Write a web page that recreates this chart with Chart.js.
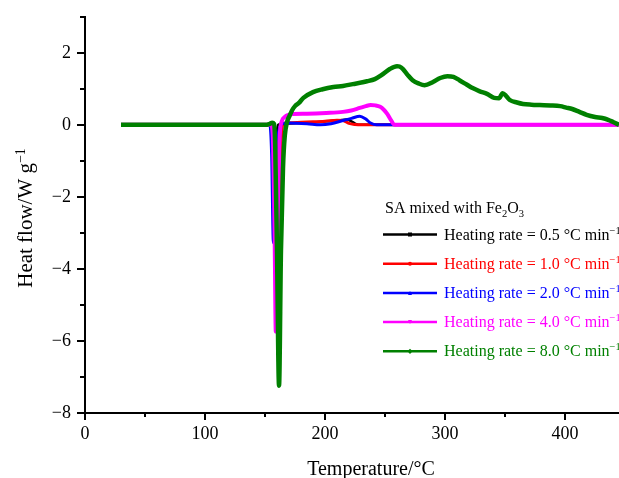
<!DOCTYPE html>
<html>
<head>
<meta charset="utf-8">
<script src="https://cdn.jsdelivr.net/npm/chart.js@4.4.1/dist/chart.umd.min.js"></script>
<style>
  html, body { margin: 0; padding: 0; background: #fff; }
  #wrap { position: relative; width: 619px; height: 478px; }
</style>
</head>
<body>
<div id="wrap"><canvas id="dscChart" width="619" height="478"></canvas></div>
<script>
// DSC curves, heat flow vs temperature, five heating rates
const SERIF = '"Liberation Serif", "Times New Roman", serif';

const rates = ['0.5', '1.0', '2.0', '4.0', '8.0'];
const colors = ['#000000', '#ff0000', '#0000ff', '#ff00ff', '#008000'];
const markers = ['rect', 'circle', 'triangle', 'triangleDown', 'rectRot'];

const t05 = [30, 155, 156.5, 157.5, 159, 161, 165, 180, 195, 205, 212, 218, 222, 226, 230, 445];
const q05 = [0, 0, -0.8, -1.6, -0.5, 0, 0.03, 0.05, 0.08, 0.11, 0.13, 0.15, 0.1, 0.02, 0, 0];

const t10 = [30, 157, 159, 161, 163, 165, 170, 185, 200, 210, 215, 220, 225, 230, 445];
const q10 = [0, 0, -1.5, -2.6, -0.8, 0.04, 0.06, 0.08, 0.1, 0.13, 0.12, 0.04, 0.01, 0, 0];

const t20 = [30, 154, 155.5, 157, 158.5, 160, 162, 165, 170, 185, 196, 205, 215, 222, 229, 234, 238, 243, 445];
const q20 = [0, 0, -0.8, -3.27, -1.8, -0.6, -0.1, 0.04, 0.05, 0.03, 0, 0.03, 0.12, 0.18, 0.24, 0.16, 0.05, 0, 0];

const t40 = [30, 155, 156.5, 158, 159, 160.5, 162, 164, 166.5, 170, 173, 185, 201, 215, 222, 229, 234, 238, 242, 246, 249, 252, 255, 258, 445];
const q40 = [0, 0, -0.3, -3, -5.74, -3.5, -0.5, 0.1, 0.22, 0.28, 0.3, 0.31, 0.33, 0.36, 0.4, 0.47, 0.52, 0.55, 0.54, 0.5, 0.42, 0.3, 0.13, 0, 0];

const t80 = [30, 150, 154, 156, 157.5, 158.5, 160, 161.7, 163.3, 165, 166.5, 168.4, 170.5, 172.5, 175, 178, 182,
             190, 198, 207, 215, 223, 235, 241.5, 247, 254, 260, 262, 265, 269, 273, 278, 283, 290, 296, 302, 307,
             312, 318, 323, 329, 335, 341, 345, 348, 351, 354, 360, 365, 372, 379, 388, 396, 401, 406, 412, 418,
             425, 431, 436, 440, 445];
const q80 = [0, 0, 0.03, 0.06, 0.03, -0.6, -3.5, -7.24, -3.5, -1.2, -0.3, 0.08, 0.25, 0.4, 0.52, 0.6, 0.75,
             0.91, 0.99, 1.05, 1.08, 1.13, 1.21, 1.27, 1.38, 1.55, 1.63, 1.62, 1.55, 1.38, 1.24, 1.15, 1.1, 1.19, 1.3, 1.35, 1.33,
             1.24, 1.12, 1.02, 0.93, 0.86, 0.75, 0.74, 0.88, 0.8, 0.69, 0.62, 0.58, 0.56, 0.55, 0.54, 0.52, 0.48, 0.44, 0.36, 0.28,
             0.22, 0.19, 0.14, 0.08, 0];

const temps = [t05, t10, t20, t40, t80];
const flows = [q05, q10, q20, q40, q80];
const widths = [2.5, 3, 3, 4, 4.5];

const xTicks = [0, 100, 200, 300, 400];
const yTicks = [-8, -6, -4, -2, 0, 2];

const minus = v => String(v).replace('-', '\u2212');

// hand-drawn tick marks: long at labelled values, short in between
const tickMarks = {
  id: 'tickMarks',
  afterDraw(chart) {
    const { ctx, chartArea, scales } = chart;
    ctx.save();
    ctx.strokeStyle = '#000';
    ctx.lineWidth = 2;
    scales.x.ticks.forEach(t => {
      const x = Math.round(scales.x.getPixelForValue(t.value));
      const len = xTicks.includes(t.value) ? 7 : 4;
      ctx.beginPath();
      ctx.moveTo(x, chartArea.bottom);
      ctx.lineTo(x, chartArea.bottom + len);
      ctx.stroke();
    });
    scales.y.ticks.forEach(t => {
      const y = Math.round(scales.y.getPixelForValue(t.value));
      const len = yTicks.includes(t.value) ? 8 : 5;
      ctx.beginPath();
      ctx.moveTo(chartArea.left, y);
      ctx.lineTo(chartArea.left - len, y);
      ctx.stroke();
    });
    ctx.restore();
  }
};

// text with a raised or lowered small part
function drawRich(ctx, parts, x, y, size) {
  let cx = x;
  parts.forEach(p => {
    const fs = p.shift ? size * 0.66 : size;
    ctx.font = fs + 'px ' + SERIF;
    ctx.fillText(p.text, cx, y + (p.shift || 0));
    cx += ctx.measureText(p.text).width;
  });
  return cx - x;
}

function richWidth(ctx, parts, size) {
  let w = 0;
  parts.forEach(p => {
    ctx.font = (p.shift ? size * 0.66 : size) + 'px ' + SERIF;
    w += ctx.measureText(p.text).width;
  });
  return w;
}

function drawMarker(ctx, style, x, y, r) {
  ctx.beginPath();
  if (style === 'rect') ctx.rect(x - r, y - r, 2 * r, 2 * r);
  else if (style === 'circle') ctx.arc(x, y, r, 0, Math.PI * 2);
  else if (style === 'triangle') { ctx.moveTo(x, y - r); ctx.lineTo(x + r, y + r); ctx.lineTo(x - r, y + r); }
  else if (style === 'triangleDown') { ctx.moveTo(x, y + r); ctx.lineTo(x + r, y - r); ctx.lineTo(x - r, y - r); }
  else { ctx.moveTo(x, y - r * 1.3); ctx.lineTo(x + r * 1.3, y); ctx.lineTo(x, y + r * 1.3); ctx.lineTo(x - r * 1.3, y); }
  ctx.closePath();
  ctx.fill();
}

// legend box and axis titles
const annotations = {
  id: 'annotations',
  afterDraw(chart) {
    const { ctx, chartArea } = chart;
    ctx.save();
    ctx.textBaseline = 'alphabetic';
    ctx.textAlign = 'left';

    const lx = chartArea.left + 298;
    ctx.fillStyle = '#000';
    drawRich(ctx, [
      { text: 'SA mixed with Fe' }, { text: '2', shift: 4 }, { text: 'O' }, { text: '3', shift: 4 }
    ], lx + 2, 213, 16);

    chart.data.datasets.forEach((ds, i) => {
      const y = 234.5 + i * 29.2;
      ctx.strokeStyle = ds.borderColor;
      ctx.fillStyle = ds.borderColor;
      ctx.lineWidth = 2.5;
      ctx.beginPath();
      ctx.moveTo(lx, y);
      ctx.lineTo(lx + 54, y);
      ctx.stroke();
      drawMarker(ctx, ds.pointStyle, lx + 27, y, 2);
      drawRich(ctx, [
        { text: 'Heating rate = ' + rates[i] + ' \u00b0C min' }, { text: '\u22121', shift: -6 }
      ], lx + 61, y + 5, 16);
    });

    ctx.fillStyle = '#000';
    ctx.textAlign = 'center';
    ctx.font = '20px ' + SERIF;
    ctx.fillText('Temperature/\u00b0C', chartArea.left + 286, 475);

    ctx.translate(32, 218);
    ctx.rotate(-Math.PI / 2);
    ctx.textAlign = 'left';
    const yTitle = [{ text: 'Heat flow/W g' }, { text: '\u22121', shift: -7 }];
    const w = richWidth(ctx, yTitle, 21);
    drawRich(ctx, yTitle, -w / 2, 0, 21);
    ctx.restore();
  }
};

const datasets = rates.map((r, i) => ({
  label: 'Heating rate = ' + r + ' \u00b0C min\u207b\u00b9',
  data: temps[i].map((t, k) => ({ x: t, y: flows[i][k] })),
  borderColor: colors[i],
  backgroundColor: colors[i],
  borderWidth: widths[i],
  pointStyle: markers[i],
  pointRadius: 0,
  cubicInterpolationMode: 'monotone',
  order: 5 - i
}));

new Chart(document.getElementById('dscChart').getContext('2d'), {
  type: 'line',
  data: { datasets },
  options: {
    responsive: false,
    animation: false,
    layout: { padding: { left: 0, right: 0, top: 15, bottom: 0 } },
    plugins: { legend: { display: false }, tooltip: { enabled: false } },
    scales: {
      x: {
        type: 'linear',
        min: 0,
        max: 445,
        afterFit: s => { s.height = 65; },
        grid: { display: false, drawTicks: true, tickLength: 7 },
        border: { display: true, color: '#000', width: 2 },
        ticks: {
          stepSize: 50,
          includeBounds: false,
          autoSkip: false,
          maxRotation: 0,
          padding: 3,
          color: '#000',
          font: { family: SERIF, size: 18 },
          callback: v => xTicks.includes(v) ? String(v) : ''
        }
      },
      y: {
        min: -8,
        max: 3,
        afterFit: s => { s.width = 85; },
        grid: { display: false, drawTicks: true, tickLength: 8 },
        border: { display: true, color: '#000', width: 2 },
        ticks: {
          stepSize: 1,
          autoSkip: false,
          padding: 6,
          color: '#000',
          font: { family: SERIF, size: 18 },
          callback: v => yTicks.includes(v) ? minus(v) : ''
        }
      }
    }
  },
  plugins: [tickMarks, annotations]
});
</script>
</body>
</html>
